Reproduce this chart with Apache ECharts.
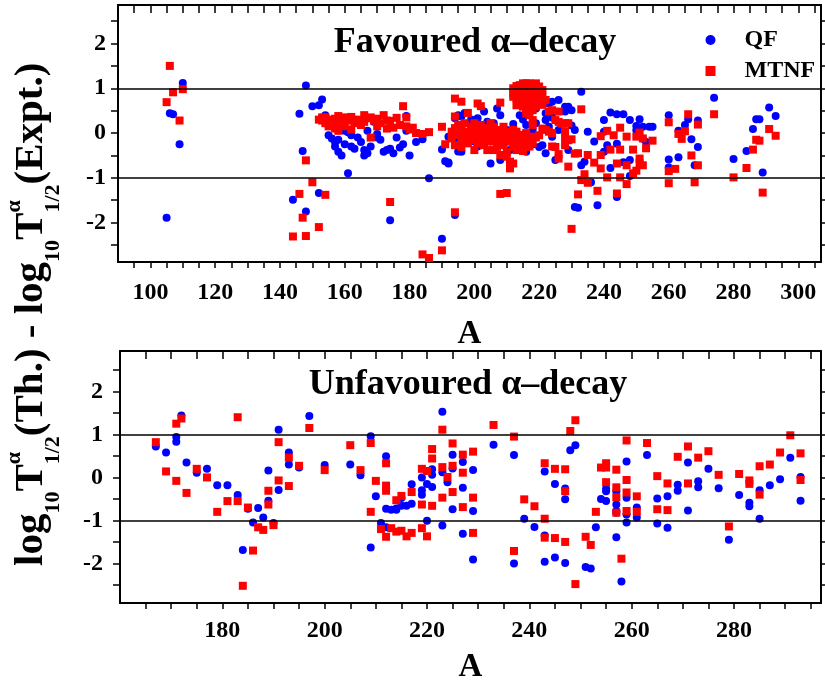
<!DOCTYPE html>
<html><head><meta charset="utf-8">
<script src="https://cdn.jsdelivr.net/npm/echarts@6/dist/echarts.min.js"></script>
<style>html,body{margin:0;padding:0;background:#fff}#c{width:825px;height:685px}</style>
</head><body><div id="c"></div>
<script>
// ---------------- data (A, log10 T(Th.) - log10 T(Expt.)) ----------------
const topQF = [
[105,-1.89],[106,0.44],[107,0.42],[109,-0.25],[110,1.12],
[144,-1.49],[146,0.43],[147,-0.40],[148,1.06],[148,-1.75],[150,0.60],[152,0.62],[153,0.75],[152,-1.34],[154,0.40],
[155,-0.05],[155,0.25],[156,-0.12],[157,-0.20],[157,-0.30],[158,-0.42],[158,-0.15],[159,-0.50],[160,-0.25],[160,0.05],
[161,-0.90],[161,0.02],[162,-0.30],[162,-0.05],[163,-0.35],[164,-0.10],[165,-0.20],[165,0.20],[166,-0.50],[166,-0.38],
[167,0.05],[167,-0.45],[168,-0.30],[169,0.25],[170,-0.02],[170,-0.10],[171,-0.15],[172,-0.42],[173,-0.38],[174,-0.35],
[174,-1.95],[175,-0.45],[176,-0.10],[177,-0.32],[178,-0.25],[179,0.38],[179,0.05],[180,-0.50],[182,-0.20],[184,-0.14],[186,-1.01],
[190,-2.36],[190,-0.37],[191,-0.63],[192,-0.66],[194,-1.83],[194,0.33],
[192,-0.08],[192,-0.68],[194,-0.19],[195,0.40],[196,0.37],[196,-0.42],[195,-0.41],[198,-0.12],[200,-0.19],[201,0.33],
[201,-0.30],[203,0.0],[205,-0.68],[205,-0.16],[206,0.22],[207,-0.08],[207,0.55],[208,0.40],[208,-0.60],[210,0.07],
[211,-0.38],[214,-0.08],[214,0.40],[216,0.44],[216,0.18],[216,-0.42],[217,0.48],[217,-0.12],[218,0.07],[219,0.22],
[220,-0.31],[220,0.81],[221,0.66],[221,-0.27],[222,0.44],[222,0.29],[223,0.66],[223,0.14],[224,0.70],[224,-0.08],
[225,-0.60],[226,0.74],[226,0.07],[228,0.59],[228,0.48],[229,0.59],[229,-0.38],[230,0.51],[230,0.17],[231,0.07],
[231,-1.65],[232,-1.67],[233,-0.72],[233,0.92],[234,-0.64],[235,0.03],[236,-1.10],[237,-0.19],[238,-1.61],[240,0.29],
[240,0.03],[240,-0.42],[241,-0.27],[242,0.46],[242,-0.78],[244,0.42],[244,-0.24],[244,-1.43],[246,0.42],[246,-0.65],
[248,0.29],[248,-0.96],[248,-0.60],[250,0.06],[250,0.16],[251,0.31],[252,0.14],[252,-0.13],[253,-0.20],[254,0.14],[255,0.14],
[197,0.45],[199,0.30],[203,0.48],[204,0.25],[209,-0.25],[212,0.20],[213,-0.30],[215,0.30],[218,-0.25],[219,0.55],[222,-0.45],[224,0.35],
[260,0.40],[260,-0.59],[260,-0.77],[263,-0.54],[263,0.05],[265,0.18],[266,0.31],[267,-0.14],[268,-0.72],[269,0.28],
[269,-0.31],[274,0.79],[280,-0.58],[284,-0.40],[286,0.09],[287,0.31],[288,0.31],[289,-0.88],[291,0.57],[293,0.38]
];
const topMTNF = [
[105,0.69],[106,1.50],[107,0.91],[109,0.28],[110,0.98],
[144,-2.31],[146,-1.36],[147,-1.89],[148,-0.61],[148,-2.30],[150,-1.10],[152,-2.10],[154,-1.38],
[152,0.30],[153,0.28],[153,0.35],[154,0.22],[154,0.35],[155,0.15],[155,0.30],[156,0.25],[157,0.10],[157,0.32],[158,0.05],
[158,0.38],[158,0.20],[159,0.25],[160,0.15],[160,0.35],[161,0.28],[162,0.08],[162,0.36],[163,0.22],[164,0.30],[165,0.18],
[166,0.40],[166,0.25],[167,0.33],[168,-0.10],[168,0.35],[169,0.28],[170,0.32],[170,0.15],[171,0.22],[172,0.40],[173,0.10],
[173,0.28],[174,0.27],[175,0.12],[176,0.34],[177,0.18],[178,0.60],[179,0.15],[179,0.35],[180,0.08],[181,0.12],[182,0.00],
[184,-0.02],[186,0.02],
[174,-1.54],[184,-2.71],[186,-2.79],[190,-2.62],[194,-1.77],[190,0.14],[191,-0.25],
[193,0.03],[194,0.11],[194,0.77],[194,0.37],[195,-0.04],[196,0.70],[196,0.07],[197,-0.08],[197,0.22],[198,0.0],[198,0.45],
[199,-0.16],[199,0.14],[200,0.11],[200,-0.38],[201,0.66],[201,-0.04],[202,0.60],[202,0.18],[203,-0.12],[204,0.03],[204,-0.38],
[205,-0.08],[205,0.22],[206,-0.19],[206,-0.38],[207,0.03],[207,-0.16],[208,0.68],[208,-0.27],[208,-0.49],[209,0.14],[210,-0.08],
[210,-0.53],[210,-0.42],[210,-1.34],[208,-1.36],[211,-0.19],[211,-0.64],[211,-0.79],[212,-0.31],[212,-0.68],[212,0.07],[213,-0.16],
[213,-0.38],[214,-0.04],[214,-0.34],[215,-0.23],[216,-0.31],[216,-0.12],[217,-0.19],[218,-0.08],
[193,-0.12],[194,-0.27],[195,0.18],[196,-0.16],[196,-0.31],[197,0.03],[198,-0.23],[199,0.07],[200,-0.05],[200,0.22],[201,-0.23],
[202,-0.08],[202,0.07],[203,0.11],[203,-0.27],[204,-0.19],[205,0.07],[206,0.0],[206,0.14],[207,-0.31],[208,0.07],[208,-0.12],
[209,-0.23],[209,-0.04],[210,0.03],[211,0.0],[212,-0.12],[213,0.03],[214,-0.19],[215,-0.08],[215,-0.40],[216,0.0],[217,-0.30],
[218,-0.22],[219,-0.10],[220,-0.05],
[212,1.0],[212,0.89],[213,0.96],[213,0.77],[214,0.74],[215,1.11],[215,0.85],[215,0.59],[216,1.11],[216,0.89],[216,0.55],
[217,1.11],[217,0.81],[217,0.66],[217,0.40],[218,1.07],[218,0.96],[218,0.51],[218,0.29],[218,0.18],[219,1.04],[219,0.70],
[220,1.04],[220,0.89],[220,0.77],[221,0.63],[221,0.96],[219,0.85],[214,0.92],[216,0.44],
[213,0.62],[214,1.07],[215,1.0],[216,0.70],[217,0.96],[218,0.85],[219,0.59],[219,1.11],[220,0.66],[221,0.81],[222,0.74],[213,1.05],[212,0.81],
[221,0.10],[222,0.07],[223,0.03],[223,0.48],[224,0.51],[224,0.0],[224,-0.30],[225,0.29],[225,-0.31],[226,0.25],[226,0.48],
[226,-0.57],[226,-0.47],[227,0.21],[228,-0.12],[228,-0.27],[228,0.22],[228,0.04],[229,-0.16],[229,0.22],[229,-0.75],[230,-0.14],
[231,-0.46],[232,-0.45],[232,-1.37],[230,-2.14],[233,0.53],[233,-1.05],[234,-0.92],[235,-0.49],[235,-1.11],[237,-0.66],[238,-1.29],
[239,-0.07],[239,-0.49],[239,-0.79],[241,0.05],[241,-0.99],[242,-0.37],[243,-0.05],[244,-1.35],[244,-0.68],[245,0.12],[245,-0.37],
[245,-0.99],[247,-0.08],[247,-0.72],[247,-1.14],[249,-0.37],[249,-0.90],[250,-0.84],[250,-0.08],[251,0.01],[251,-0.57],[252,-0.12],
[251,-0.67],[252,-0.72],[253,-0.34],[255,-0.17],
[260,0.24],[260,-0.85],[260,-1.12],[262,-0.80],[263,-0.02],[264,-0.13],[265,0.04],[266,0.42],[267,-0.50],[268,-1.10],[269,0.19],
[269,-0.72],[274,0.42],[280,-0.99],[284,-0.78],[286,-0.37],[287,-0.15],[288,-0.17],[289,-1.33],[291,0.09],[293,-0.06]
];
const botQF = [
[167,0.72],[169,0.58],[171,0.94],[171,0.83],[172,1.44],[173,0.35],[175,0.11],[177,0.20],[179,-0.18],[181,-0.18],[183,-0.41],
[184,-1.69],[185,-0.73],[186,-1.05],[187,-0.71],[188,-0.93],[189,-0.54],[189,0.16],[190,-1.06],[191,1.11],[191,-0.29],[193,0.58],
[193,0.30],[195,0.23],[197,1.43],[200,0.29],[205,0.30],[207,0.05],[209,0.96],[209,-1.63],[210,-0.44],[211,-1.06],[212,0.49],
[212,-0.25],[212,-0.73],[212,-1.16],[213,-0.75],[214,-0.75],[214,-0.72],[215,-0.48],[215,-0.66],[216,-0.66],[217,-0.61],[217,-0.16],
[219,0.0],[219,-0.30],[219,-0.40],[220,-0.15],[220,-1.01],[221,0.19],[221,0.06],[221,-0.22],[223,1.53],[223,0.12],[223,-1.12],
[224,-0.11],[225,0.53],[225,0.21],[225,-0.74],[227,0.36],[227,-0.24],[227,-1.31],[229,0.17],[229,-0.78],[229,-1.91],[233,0.76],
[237,0.52],[237,-2.00],[239,-0.96],[241,-1.15],[243,0.14],[243,-1.35],[243,-1.96],[245,-0.15],[245,-1.86],[247,-0.26],[247,-0.51],
[247,-1.99],[248,0.63],[249,0.75],[251,-2.08],[252,-2.12],[253,-1.16],[254,-0.50],[255,-0.26],[255,-0.32],[255,-0.55],[257,-0.32],
[257,-0.63],[257,-0.78],[257,-0.82],[257,-1.39],[258,-2.42],[259,0.37],[259,-0.47],[259,-0.86],[259,-1.05],[261,-0.70],[261,-0.93],
[263,0.52],[265,-0.49],[265,-1.07],[267,-0.44],[267,-1.17],[269,-0.17],[269,-0.31],[271,0.35],[271,-0.77],[273,-0.09],[273,-0.23],
[275,0.20],[277,-0.25],[279,-1.45],[281,-0.41],[283,-0.59],[283,-0.67],[285,-0.30],[285,-0.96],[287,-0.18],[289,-0.04],[291,0.46],
[293,0.01],[293,-0.54]
];
const botMTNF = [
[167,0.82],[169,0.14],[171,1.25],[172,1.37],[171,-0.08],[173,-0.36],[175,0.20],[177,0.0],[179,-0.80],[181,-0.55],[183,1.40],
[183,-0.55],[184,-2.52],[185,-0.70],[186,-1.70],[187,-1.16],[188,-1.22],[189,-0.31],[189,-0.63],[190,-1.11],[191,0.82],[191,-0.07],
[193,0.46],[193,-0.20],[195,0.27],[197,1.15],[200,0.17],[205,0.75],[207,0.17],[209,0.80],[209,-0.80],[210,-0.08],[211,-1.20],
[212,0.33],[212,-0.19],[212,-0.31],[212,-1.38],[213,-1.18],[214,-0.53],[214,-1.26],[215,-0.43],[215,-1.24],[216,-1.37],[217,-0.34],
[217,-1.29],[219,0.20],[219,-0.63],[219,-1.18],[220,0.15],[220,-1.37],[221,0.66],[221,0.44],[221,-0.66],[223,1.11],[223,0.24],
[223,-0.47],[224,0.01],[225,0.79],[225,0.27],[225,-0.34],[227,0.53],[227,0.11],[227,-0.69],[229,0.60],[229,-0.47],[229,-1.29],
[233,1.22],[237,0.95],[237,-1.71],[239,-0.51],[241,-0.67],[243,0.33],[243,-0.96],[243,-1.40],[245,0.20],[245,-1.41],[247,0.19],
[247,-0.32],[247,-1.50],[248,1.08],[249,1.33],[249,-2.48],[251,-1.38],[252,-1.57],[253,-0.80],[254,0.23],[255,0.33],[255,0.23],
[255,-0.11],[257,0.18],[257,-0.23],[257,-0.46],[257,-0.82],[258,-1.89],[259,0.86],[259,-0.06],[259,-0.35],[259,-0.78],[261,-0.44],
[261,-0.80],[263,0.80],[265,0.03],[265,-0.74],[267,-0.14],[267,-0.76],[269,0.48],[271,0.72],[271,-0.14],[273,0.46],[275,0.61],
[277,0.06],[279,-1.14],[281,0.08],[283,-0.07],[283,-0.15],[285,0.26],[285,-0.40],[287,0.30],[289,0.58],[291,0.98],[293,0.56],[293,-0.06]
];
// reference lines and tick labels
const refLines = [1, -1];
const topXLabels = [100,120,140,160,180,200,220,240,260,280,300];
const botXLabels = [180,200,220,240,260,280];
const yLabels = [-2,-1,0,1,2];
const titles = ['Favoured \u03b1\u2013decay', 'Unfavoured \u03b1\u2013decay'];
const seriesNames = ['QF', 'MTNF'];

// ---------------- layout ----------------
const SERIF = '"Liberation Serif","Times New Roman",serif';
function stepTicks(a, b, s){ const r=[]; for(let v=a; v<=b+1e-9; v+=s) r.push(+v.toFixed(3)); return r; }
const topXTicks = stepTicks(95, 305, 5);
const botXTicks = stepTicks(165, 295, 5);
const yTicks = stepTicks(-2.5, 2.5, 0.5);
const axLine = {show:true, onZero:false, lineStyle:{color:'#000', width:2}};
const lblStyle = {fontFamily:SERIF, fontWeight:'bold', fontSize:24, color:'#000'};

function xPair(gi, min, max, labels, ticks, margin, nameGap){
  return [{
    gridIndex:gi, type:'value', min, max, position:'bottom',
    name:'A', nameLocation:'middle', nameGap,
    nameTextStyle:{fontFamily:SERIF, fontWeight:'bold', fontSize:33, color:'#000'},
    axisLine:axLine,
    axisTick:{show:true, inside:false, length:6, customValues:ticks, lineStyle:{color:'#000', width:1.5}},
    axisLabel:Object.assign({show:true, margin, customValues:labels}, lblStyle),
    splitLine:{show:false}
  },{
    gridIndex:gi, type:'value', min, max, position:'top',
    axisLine:axLine,
    axisTick:{show:true, inside:true, length:8, customValues:ticks, lineStyle:{color:'#000', width:1.5}},
    axisLabel:{show:false}, splitLine:{show:false}
  }];
}
function yPair(gi, min, max, margin){
  return [{
    gridIndex:gi, type:'value', min, max, position:'left',
    axisLine:axLine,
    axisTick:{show:true, inside:false, length:7, customValues:yTicks, lineStyle:{color:'#000', width:1.5}},
    axisLabel:Object.assign({show:true, margin, customValues:yLabels}, lblStyle),
    splitLine:{show:false}
  },{
    gridIndex:gi, type:'value', min, max, position:'right',
    axisLine:axLine,
    axisTick:{show:true, inside:false, length:5, customValues:yTicks, lineStyle:{color:'#000', width:1.5}},
    axisLabel:{show:false}, splitLine:{show:false}
  }];
}

// rotated y-axis title built from measured pieces
const mctx = document.createElement('canvas').getContext('2d');
function tw(t, s){ mctx.font = 'bold ' + s + 'px ' + SERIF; return mctx.measureText(t).width; }
const M = 41, S = 22;
const cxMain = 45 - 0.3375*M, cxSub = 61 - 0.3375*S, cxSup = 22 - 0.3375*S;
let pos = 566;
const yTitle = [];
function put(t, s, cx, adv){
  yTitle.push({type:'text', x:cx, y:pos, rotation:Math.PI/2, silent:true,
    style:{text:t, font:'bold '+s+'px '+SERIF, fill:'#000', textAlign:'left', textVerticalAlign:'middle', align:'left', verticalAlign:'middle'}});
  if (adv) pos -= tw(t, s);
}
function tpart(){ put('log',M,cxMain,1); put('10',S,cxSub,1); put('T',M,cxMain,1); put('\u03b1',S,cxSup,0); put('1/2',S,cxSub,1); }
tpart(); put('(Th.) - ',M,cxMain,1); tpart(); put('(Expt.)',M,cxMain,1);

const titleEls = [
  {type:'text', x:475, y:43, silent:true, style:{text:titles[0], font:'bold 36px '+SERIF, fill:'#000', textAlign:'center', textVerticalAlign:'middle', align:'center', verticalAlign:'middle'}},
  {type:'text', x:468, y:385, silent:true, style:{text:titles[1], font:'bold 36px '+SERIF, fill:'#000', textAlign:'center', textVerticalAlign:'middle', align:'center', verticalAlign:'middle'}}
];

function sc(name, xi, yi, data, isQF, withLines){
  const s = {name, type:'scatter', xAxisIndex:xi, yAxisIndex:yi, data,
    symbol: isQF ? 'circle' : 'rect', symbolSize: 8,
    itemStyle:{color: isQF ? '#0000ff' : '#ff0000', opacity:1},
    emphasis:{disabled:true}, z: isQF ? 3 : 4};
  if (withLines) s.markLine = {silent:true, symbol:'none', animation:false, label:{show:false},
    lineStyle:{color:'#000', width:1.5, type:'solid'}, data: refLines.map(v => ({yAxis:v}))};
  return s;
}

const chart = echarts.init(document.getElementById('c'), null, {renderer:'canvas'});
chart.setOption({
  animation:false,
  backgroundColor:'#fff',
  grid:[
    {left:118, right:4, top:5, height:257},
    {left:120, right:4, top:351, height:256}
  ],
  xAxis:[].concat(xPair(0, 90, 307, topXLabels, topXTicks, 19, 56), xPair(1, 160, 297, botXLabels, botXTicks, 16, 48)),
  yAxis:[].concat(yPair(0, -2.88, 2.86, 12), yPair(1, -2.92, 2.94, 17)),
  legend:{orient:'vertical', left:705.5, top:28, itemWidth:10, itemHeight:10, itemGap:7, padding:0,
    textStyle:{fontFamily:SERIF, fontWeight:'bold', fontSize:24, color:'#000', padding:[0,0,0,24]},
    data:seriesNames, selectedMode:false},
  graphic:{elements: titleEls.concat(yTitle)},
  series:[
    sc(seriesNames[0], 0, 0, topQF, true, true),
    sc(seriesNames[1], 0, 0, topMTNF, false, false),
    sc(seriesNames[0], 2, 2, botQF, true, true),
    sc(seriesNames[1], 2, 2, botMTNF, false, false)
  ]
});
</script></body></html>
